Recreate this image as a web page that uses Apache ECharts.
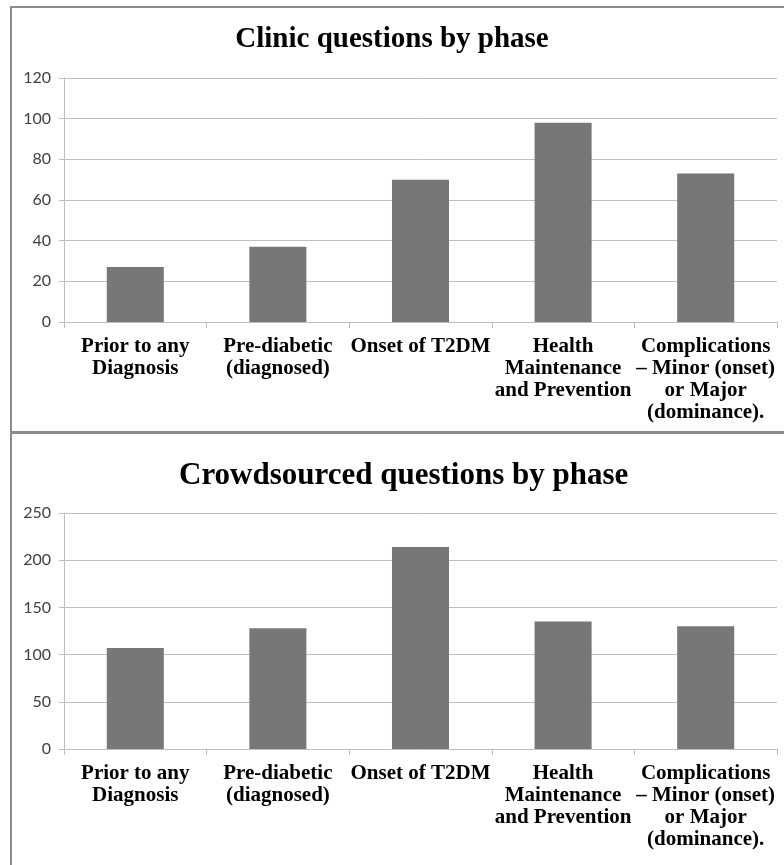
<!DOCTYPE html>
<html>
<head>
<meta charset="utf-8">
<script src="https://cdn.jsdelivr.net/npm/echarts@6/dist/echarts.min.js"></script>
<style>
  html, body { margin: 0; padding: 0; background: #fff; }
  #chart { width: 784px; height: 865px; }
</style>
</head>
<body>
<div id="chart"></div>
<script>
// categories shared by both panels
const phases = [
  'Prior to any\nDiagnosis',
  'Pre-diabetic\n(diagnosed)',
  'Onset of T2DM',
  'Health\nMaintenance\nand Prevention',
  'Complications\n\u2013 Minor (onset)\nor Major\n(dominance).'
]
const clinicCounts = [27, 37, 70, 98, 73]
const crowdCounts = [107, 128, 214, 135, 130]

const clinicTitle = 'Clinic questions by phase'
const crowdTitle = 'Crowdsourced questions by phase'

const gridColor = '#bfbfbf'
const barColor = '#777777'
const borderColor = '#8c8c8c'

const chart = echarts.init(document.getElementById('chart'), null, { renderer: 'canvas' })

const makeXAxis = (gridIndex) => ({
  type: 'category',
  gridIndex,
  data: phases,
  axisLine: { lineStyle: { color: gridColor, width: 1 } },
  axisTick: { show: true, length: 6, lineStyle: { color: gridColor } },
  axisLabel: {
    interval: 0,
    margin: 14,
    color: '#000',
    fontFamily: 'Liberation Serif',
    fontWeight: 'bold',
    fontSize: 21,
    lineHeight: 22,
    align: 'center'
  }
})

const makeYAxis = (gridIndex, max, interval) => ({
  type: 'value',
  gridIndex,
  min: 0,
  max,
  interval,
  axisLine: { show: true, lineStyle: { color: gridColor, width: 1 } },
  axisTick: { show: true, length: 5, lineStyle: { color: gridColor } },
  axisLabel: {
    margin: 13,
    color: '#404040',
    fontFamily: 'Lato',
    fontSize: 16
  },
  splitLine: { lineStyle: { color: gridColor, width: 1 } }
})

const option = {
  backgroundColor: '#fff',
  animation: false,
  title: [
    {
      text: clinicTitle,
      left: 'center',
      top: 20,
      textStyle: { fontFamily: 'Liberation Serif', fontWeight: 'bold', fontSize: 29, color: '#000' }
    },
    {
      text: crowdTitle,
      left: 174,
      top: 455,
      textStyle: { fontFamily: 'Liberation Serif', fontWeight: 'bold', fontSize: 31, color: '#000' }
    }
  ],
  grid: [
    { left: 64, right: 7, top: 78, height: 244 },
    { left: 64, right: 7, top: 513, height: 236 }
  ],
  xAxis: [makeXAxis(0), makeXAxis(1)],
  yAxis: [makeYAxis(0, 120, 20), makeYAxis(1, 250, 50)],
  series: [
    {
      type: 'bar',
      xAxisIndex: 0,
      yAxisIndex: 0,
      data: clinicCounts,
      barCategoryGap: '60%',
      itemStyle: { color: barColor }
    },
    {
      type: 'bar',
      xAxisIndex: 1,
      yAxisIndex: 1,
      data: crowdCounts,
      barCategoryGap: '60%',
      itemStyle: { color: barColor }
    }
  ],
  graphic: [
    {
      type: 'rect',
      silent: true,
      shape: { x: 11, y: 7, width: 800, height: 425 },
      style: { fill: 'none', stroke: borderColor, lineWidth: 2 }
    },
    {
      type: 'rect',
      silent: true,
      shape: { x: 11, y: 433, width: 800, height: 460 },
      style: { fill: 'none', stroke: borderColor, lineWidth: 2 }
    }
  ]
}

chart.setOption(option)
</script>
</body>
</html>
